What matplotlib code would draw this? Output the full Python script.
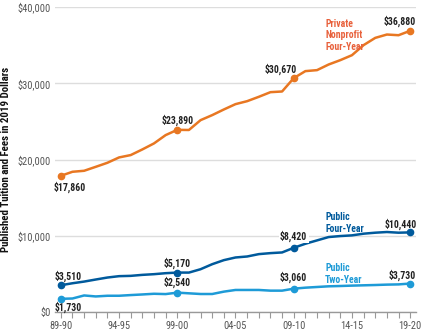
import matplotlib
matplotlib.use("Agg")
import matplotlib.pyplot as plt
from matplotlib import font_manager

years = ["89-90", "90-91", "91-92", "92-93", "93-94", "94-95", "95-96", "96-97",
         "97-98", "98-99", "99-00", "00-01", "01-02", "02-03", "03-04", "04-05",
         "05-06", "06-07", "07-08", "08-09", "09-10", "10-11", "11-12", "12-13",
         "13-14", "14-15", "15-16", "16-17", "17-18", "18-19", "19-20"]

private_four = [17860, 18390, 18520, 19040, 19570, 20270, 20580, 21320, 22110, 23200,
                23890, 23870, 25160, 25820, 26560, 27260, 27650, 28220, 28830, 28920,
                30670, 31590, 31720, 32460, 33030, 33680, 35000, 35950, 36390, 36300,
                36880]
public_four = [3510, 3770, 3990, 4260, 4520, 4700, 4740, 4870, 4960, 5090,
               5170, 5170, 5610, 6270, 6800, 7150, 7280, 7590, 7720, 7810,
               8420, 8950, 9390, 9830, 9960, 10050, 10270, 10400, 10490, 10400,
               10440]
public_two = [1730, 1770, 2170, 2040, 2130, 2130, 2220, 2300, 2390, 2350,
              2540, 2450, 2360, 2360, 2670, 2890, 2890, 2890, 2800, 2800,
              3060, 3190, 3280, 3370, 3410, 3460, 3500, 3540, 3590, 3620,
              3730]

tick_years = ["89-90", "94-95", "99-00", "04-05", "09-10", "14-15", "19-20"]
y_ticks = [0, 10000, 20000, 30000, 40000]
marked = [0, 10, 20, 30]

ORANGE = "#E87722"
DARK_BLUE = "#005A9C"
LIGHT_BLUE = "#1E9BD7"
LABEL_ORANGE = "#E8613C"

avail = {f.name for f in font_manager.fontManager.ttflist}
narrow = "Liberation Sans"
for name in ["Roboto Condensed", "Liberation Sans Narrow", "Roboto"]:
    if name in avail:
        narrow = name
        break
plt.rcParams["font.family"] = [narrow, "DejaVu Sans"]

fig = plt.figure(figsize=(4.31, 3.36), dpi=100)
ax = fig.add_axes([55 / 431, 1 - 312 / 336, (416 - 55) / 431, (312 - 7) / 336])

x = list(range(len(years)))
series = [(private_four, ORANGE), (public_four, DARK_BLUE), (public_two, LIGHT_BLUE)]
for vals, col in series:
    ax.plot(x, vals, color=col, lw=1.8, zorder=3, solid_capstyle="round")
    ax.plot(marked, [vals[i] for i in marked], "o", color=col, ms=4.5, zorder=4)

ax.set_xlim(-0.5, 30.5)
ax.set_ylim(0, 40000)
ax.set_yticks(y_ticks)
ax.set_yticklabels(["${:,}".format(v) for v in y_ticks])
ax.set_xticks(x)
ax.set_xticklabels([y if y in tick_years else "" for y in years])
for s in ["top", "right", "left"]:
    ax.spines[s].set_visible(False)
ax.spines["bottom"].set_color("#999999")
ax.spines["bottom"].set_linewidth(1)
ax.tick_params(axis="x", length=4, color="#999999", labelsize=7.5, labelcolor="#555555", pad=2.5)
ax.tick_params(axis="y", length=0, labelsize=7.5, labelcolor="#555555", pad=3)
ax.grid(axis="y", color="#DDDDDD", lw=1, zorder=0)
ax.set_axisbelow(True)
ylab = ax.set_ylabel("Published Tuition and Fees in 2019 Dollars", fontsize=7,
                     fontweight="bold", color="#111111")
ax.yaxis.set_label_coords(-44 / 361, 0.5)

# shrink the axis title so it runs about 188 px like the original
fig.canvas.draw()
h = ylab.get_window_extent().height
ylab.set_fontsize(7 * 188 / h)

# value labels: (series, index, dx px, dy px, white box)
labels = [
    (private_four, 0, 9, -11, False), (private_four, 10, 0, 10, False),
    (private_four, 20, -13, 9, False), (private_four, 30, -10, 10, False),
    (public_four, 0, 7, 9, False), (public_four, 10, 0, 9, False),
    (public_four, 20, 0, 12, True), (public_four, 30, -9, 8, False),
    (public_two, 0, 7, -8, False), (public_two, 10, 0, 10, False),
    (public_two, 20, 0, 11, False), (public_two, 30, -8, 8, False),
]
for vals, i, dx, dy, box in labels:
    bb = dict(boxstyle="square,pad=0.15", fc="white", ec="none") if box else None
    ax.annotate("${:,}".format(vals[i]), (i, vals[i]), xytext=(dx * 0.72, dy * 0.72),
                textcoords="offset points", ha="center", va="center", fontsize=7,
                fontweight="bold", color="#222222", zorder=5, bbox=bb)

ax.text(22.7, 36300, "Private\nNonprofit\nFour-Year", color=LABEL_ORANGE, fontsize=7,
        fontweight="bold", va="center", ha="left", linespacing=1.2, zorder=5)
ax.text(22.7, 11700, "Public\nFour-Year", color=DARK_BLUE, fontsize=7,
        fontweight="bold", va="center", ha="left", linespacing=1.2, zorder=5)
ax.text(22.7, 5000, "Public\nTwo-Year", color=LIGHT_BLUE, fontsize=7,
        fontweight="bold", va="center", ha="left", linespacing=1.2, zorder=5)

fig.savefig("out.png", dpi=100)
